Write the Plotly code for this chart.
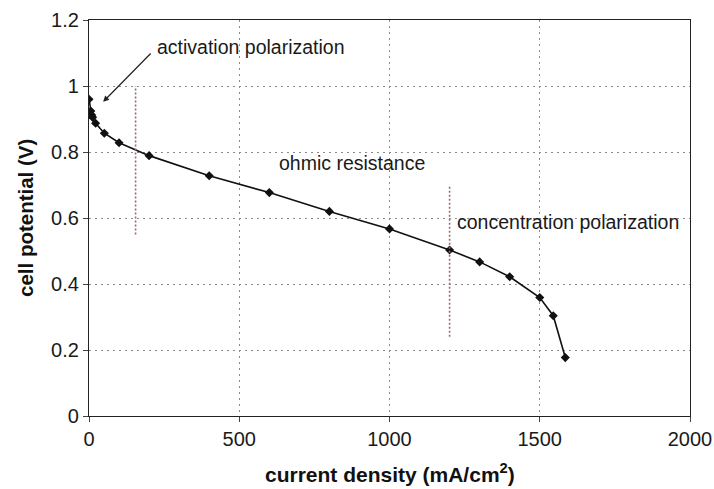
import plotly.graph_objects as go

current_density = [0, 6, 9, 12, 22, 51, 100, 200, 400, 600, 800, 1000, 1200, 1300, 1400, 1500, 1545, 1585]
cell_potential = [0.96, 0.924, 0.912, 0.905, 0.887, 0.857, 0.828, 0.789, 0.728, 0.677, 0.62, 0.567, 0.503, 0.467, 0.422, 0.359, 0.304, 0.177]

x_ticks = [0, 500, 1000, 1500, 2000]
y_ticks = [0, 0.2, 0.4, 0.6, 0.8, 1.0, 1.2]
y_tick_text = ["0", "0.2", "0.4", "0.6", "0.8", "1", "1.2"]

font_family = "Liberation Sans, Arial, sans-serif"

fig = go.Figure()
fig.add_trace(go.Scatter(
    x=current_density, y=cell_potential, mode="lines+markers",
    line=dict(color="#111111", width=1.6),
    marker=dict(symbol="diamond", size=7, color="#111111"),
    showlegend=False, hoverinfo="skip",
))

axis_common = dict(
    showline=True, linecolor="#222222", linewidth=1.2, mirror=True,
    ticks="outside", ticklen=5, tickcolor="#444444", tickwidth=1,
    showgrid=True, gridcolor="#8a8a8a", gridwidth=1.4, griddash="2px,4px",
    zeroline=False, automargin=False,
    tickfont=dict(family=font_family, size=20, color="#1a1a1a"),
)

fig.update_xaxes(range=[0, 2000], tickvals=x_ticks, ticktext=[str(v) for v in x_ticks], **axis_common)
fig.update_yaxes(range=[0, 1.2], tickvals=y_ticks, ticktext=y_tick_text, **axis_common)

# vertical dotted region markers
fig.add_shape(type="line", x0=155, x1=155, y0=0.55, y1=1.0, xref="x", yref="y",
              line=dict(color="#9a6a6a", width=1.6, dash="2px,2px"))
fig.add_shape(type="line", x0=1200, x1=1200, y0=0.24, y1=0.70, xref="x", yref="y",
              line=dict(color="#9a6a6a", width=1.6, dash="2px,2px"))

text_font = dict(family=font_family, size=19.5, color="#1a1a1a")
fig.add_annotation(x=220, y=1.118, text="activation polarization", showarrow=False,
                   xanchor="left", yanchor="middle", font=text_font)
fig.add_annotation(x=47, y=0.952, ax=210, ay=1.103, xref="x", yref="y", axref="x", ayref="y",
                   text="", showarrow=True, arrowhead=2, arrowsize=1, arrowwidth=1.2, arrowcolor="#222222")
fig.add_annotation(x=626, y=0.767, text="ohmic resistance", showarrow=False,
                   xanchor="left", yanchor="middle", font=text_font)
fig.add_annotation(x=1218, y=0.588, text="concentration polarization", showarrow=False,
                   xanchor="left", yanchor="middle", font=text_font)

# axis titles
fig.add_annotation(x=0.5, y=0, xref="paper", yref="paper", yshift=-57,
                   text="<b>current density (mA/cm<sup>2</sup>)</b>", showarrow=False,
                   xanchor="center", yanchor="middle",
                   font=dict(family=font_family, size=21, color="#111111"))
fig.add_annotation(x=0, y=0.5, xref="paper", yref="paper", xshift=-64, textangle=-90,
                   text="<b>cell potential (V)</b>", showarrow=False,
                   xanchor="center", yanchor="middle",
                   font=dict(family=font_family, size=20.5, color="#111111"))

fig.update_layout(
    width=714, height=489,
    margin=dict(l=89, r=24, t=20, b=73),
    paper_bgcolor="white", plot_bgcolor="white",
)

fig.write_html("out.html")
